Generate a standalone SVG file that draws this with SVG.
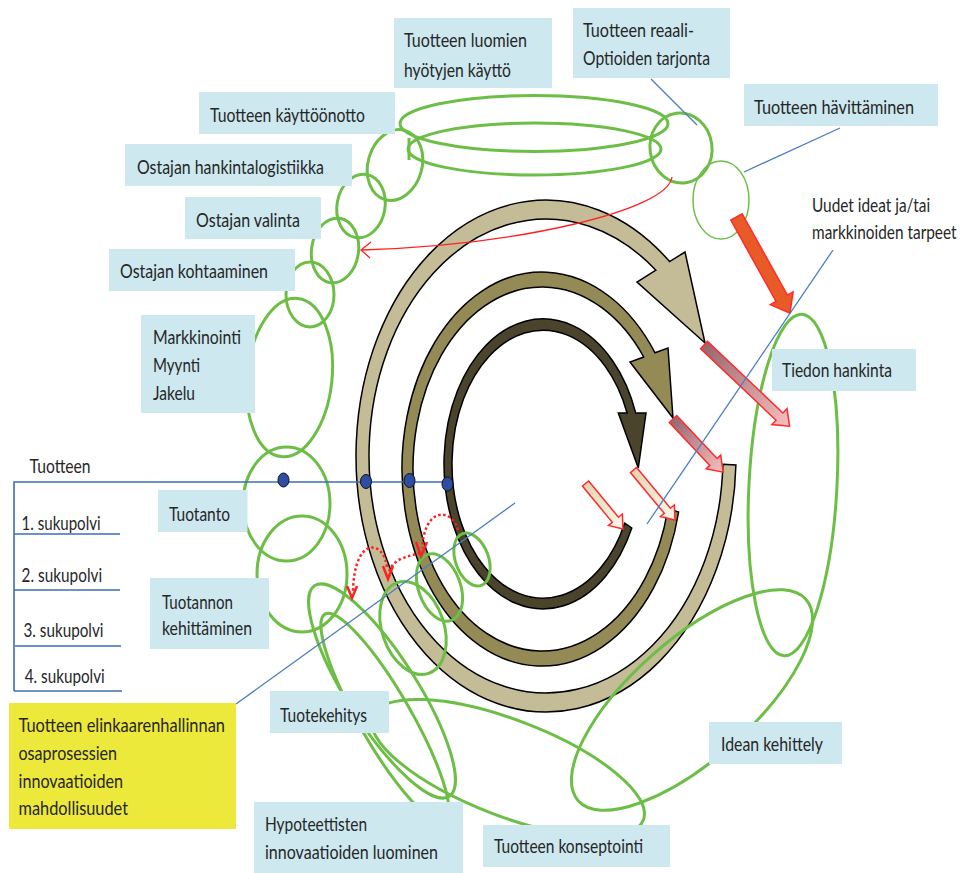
<svg xmlns="http://www.w3.org/2000/svg" width="966" height="873" viewBox="0 0 966 873">
  <defs>
    <linearGradient id="gradRed" x1="0" y1="0" x2="1" y2="0">
      <stop offset="0" stop-color="#97676F"/>
      <stop offset="1" stop-color="#F7BFC0"/>
    </linearGradient>
    <linearGradient id="gradCream" x1="0" y1="0" x2="1" y2="0">
      <stop offset="0" stop-color="#E2D7B5"/>
      <stop offset="1" stop-color="#FBF7EA"/>
    </linearGradient>
    <style>
      .box { fill: #CDE8EF; }
      .ybox { fill: #EDE93B; }
      .lbl { font-family: Lato, "Liberation Sans", sans-serif; font-size: 20px; fill: #262626; }
      .g { fill: none; stroke: #6DBE46; stroke-width: 3; }
      .gt { fill: none; stroke: #6DBE46; stroke-width: 1.5; }
      .ring { stroke: #000; stroke-width: 1.5; stroke-linejoin: miter; }
      .blue { fill: none; stroke: #4A7EC0; stroke-width: 1.3; }
      .gen { fill: none; stroke: #3F6DB5; stroke-width: 1.6; }
      .dot { fill: #2D4EA2; stroke: #111; stroke-width: 1; }
      .dotted { fill: none; stroke: #FF2020; stroke-width: 2.5; stroke-dasharray: 2.5 2.5; }
      .vhead { fill: none; stroke: #FF2020; stroke-width: 2.5; }
      .blk { stroke: #FF2A2A; stroke-width: 1.5; stroke-linejoin: miter; }
    </style>
  </defs>

  <!-- three generation cycles -->
  <g id="cycles">
    <path id="cycle-outer" class="ring" fill="#C4BB97" d="M722.9,464.3 L735.9,464.9 A190 256 0 1 1 669.6,261.6 L685,252 L705,343 L637,282 L655.9,270.2 A177 237 0 1 0 722.9,464.3 Z"/>
    <path id="cycle-middle" class="ring" fill="#938A56" d="M667.9,508.7 L678.6,512 A140 197 0 1 1 655,352.8 L668,348 L673,418 L630,362 L643.7,357 A129 182 0 1 0 667.9,508.7 Z"/>
    <path id="cycle-inner" class="ring" fill="#4A442C" d="M624.7,523.2 L631.8,528 A99 145 0 1 1 635.7,413 L646,413 L638.3,468 L618.3,413 L627.1,413 A91 134 0 1 0 624.7,523.2 Z"/>
  </g>

  <!-- sub-process loops -->
  <g id="loops">
    <ellipse class="g" cx="534" cy="123.5" rx="134" ry="28"/>
    <ellipse class="g" cx="534.5" cy="149" rx="126.5" ry="26"/>
    <line class="g" x1="409" y1="138" x2="409" y2="160"/>
    <ellipse class="g" cx="681" cy="148" rx="31" ry="35" transform="rotate(-8 681 148)"/>
    <ellipse class="gt" cx="721" cy="200" rx="28" ry="39"/>
    <ellipse class="g" cx="395" cy="165" rx="27" ry="36" transform="rotate(16 395 165)"/>
    <ellipse class="g" cx="361" cy="206" rx="24" ry="32" transform="rotate(10 361 206)"/>
    <ellipse class="g" cx="335" cy="250.5" rx="23.5" ry="32.5" transform="rotate(8 335 250.5)"/>
    <ellipse class="g" cx="310" cy="294.5" rx="24" ry="32.5"/>
    <ellipse class="g" cx="289.5" cy="377.5" rx="42.5" ry="79.5" transform="rotate(6 289.5 377.5)"/>
    <ellipse class="g" cx="286.5" cy="504" rx="43.5" ry="57"/>
    <ellipse class="g" cx="302" cy="574" rx="45" ry="58"/>
    <ellipse class="g" cx="413" cy="628" rx="31" ry="48" transform="rotate(-19 413 628)"/>
    <ellipse class="g" cx="439.5" cy="587.5" rx="21" ry="35" transform="rotate(-20 439.5 587.5)"/>
    <ellipse class="g" cx="472" cy="559.5" rx="16.5" ry="27.5" transform="rotate(-20 472 559.5)"/>
    <ellipse class="g" cx="382" cy="691" rx="125" ry="35" transform="rotate(57.5 382 691)"/>
    <ellipse class="g" cx="385" cy="718" rx="120" ry="26" transform="rotate(60 385 718)"/>
    <ellipse class="g" cx="508" cy="768" rx="145" ry="48" transform="rotate(21 508 768)"/>
    <ellipse class="g" cx="692" cy="700" rx="152" ry="60" transform="rotate(-41.5 692 700)"/>
    <ellipse class="g" cx="793" cy="485" rx="44" ry="171" transform="rotate(3 793 485)"/>
  </g>

  <!-- block arrows -->
  <g id="flow-arrows">
    <polygon id="arrow-outer" class="blk" fill="url(#gradRed)" points="0,-5 104,-5 104,-11 118,0 104,11 104,5 0,5" transform="translate(704 345) rotate(43.5)"/>
    <polygon id="arrow-middle" class="blk" fill="url(#gradRed)" points="0,-5 59,-5 59,-10 73,0 59,10 59,5 0,5" transform="translate(673 419) rotate(46.7)"/>
    <polygon id="arrow-inner-a" class="blk" fill="url(#gradCream)" points="0,-4 53,-4 53,-9 65,0 53,9 53,4 0,4" transform="translate(633.5 470) rotate(50.3)"/>
    <polygon id="arrow-inner-b" class="blk" fill="url(#gradCream)" points="0,-4 47,-4 47,-9 59,0 47,9 47,4 0,4" transform="translate(585.5 483.5) rotate(50.5)"/>
    <polygon id="arrow-ideas" class="blk" fill="#E85B28" points="0,-6.5 93,-6.5 93,-13 110,0 93,13 93,6.5 0,6.5" transform="translate(736.5 217) rotate(60.9)"/>
  </g>

  <!-- connectors -->
  <g id="connectors">
    <line class="blue" x1="651" y1="79" x2="697" y2="125"/>
    <line class="blue" x1="840" y1="128" x2="744" y2="172"/>
    <line class="blue" x1="833" y1="250" x2="647" y2="524"/>
    <line class="blue" x1="236" y1="704" x2="515" y2="503"/>
    <path fill="none" stroke="#FF2020" stroke-width="1.3" d="M672,177 C668,210 520,245 362,250"/>
    <polyline fill="none" stroke="#FF2020" stroke-width="1.3" points="371,242 361,250 370,258"/>
    <path class="dotted" d="M458,530 C452,508 425,506 422,548"/>
    <polyline class="vhead" points="416,542 421,556 427,542"/>
    <path class="dotted" d="M420,553 C410,556 393,558 389,572"/>
    <polyline class="vhead" points="383,566 388,579 393,566"/>
    <path class="dotted" d="M387,567 C384,540 354,535 353,592"/>
    <polyline class="vhead" points="347,586 352,598 357,586"/>
  </g>

  <!-- product generations axis -->
  <g id="generations">
    <polyline class="gen" points="448,482 14,482 14,691"/>
    <line class="gen" x1="14" y1="534" x2="120" y2="534"/>
    <line class="gen" x1="14" y1="590" x2="120" y2="590"/>
    <line class="gen" x1="15" y1="646" x2="121" y2="646"/>
    <line class="gen" x1="14" y1="691" x2="122" y2="691"/>
    <ellipse class="dot" cx="283.5" cy="480" rx="5.5" ry="7"/>
    <ellipse class="dot" cx="366" cy="481.5" rx="5.5" ry="7"/>
    <ellipse class="dot" cx="409.5" cy="480.5" rx="5.5" ry="7"/>
    <ellipse class="dot" cx="447.5" cy="484" rx="5.5" ry="7"/>
    <text class="lbl" x="29.6" y="472.5" textLength="61" lengthAdjust="spacingAndGlyphs">Tuotteen</text>
    <text class="lbl" x="21.6" y="529.5" textLength="79" lengthAdjust="spacingAndGlyphs">1. sukupolvi</text>
    <text class="lbl" x="21.6" y="582" textLength="80.5" lengthAdjust="spacingAndGlyphs">2. sukupolvi</text>
    <text class="lbl" x="23.5" y="637" textLength="80" lengthAdjust="spacingAndGlyphs">3. sukupolvi</text>
    <text class="lbl" x="24.7" y="683" textLength="80" lengthAdjust="spacingAndGlyphs">4. sukupolvi</text>
  </g>

  <!-- labels -->
  <g id="node-kaytto">
    <rect class="box" x="394" y="18" width="158" height="70"/>
    <text class="lbl" x="404" y="47" textLength="123" lengthAdjust="spacingAndGlyphs">Tuotteen luomien</text>
    <text class="lbl" x="404" y="76.5" textLength="107" lengthAdjust="spacingAndGlyphs">hyötyjen käyttö</text>
  </g>
  <g id="node-reaalioptiot">
    <rect class="box" x="573" y="8" width="157" height="70"/>
    <text class="lbl" x="583" y="36.5" textLength="111" lengthAdjust="spacingAndGlyphs">Tuotteen reaali-</text>
    <text class="lbl" x="583" y="65" textLength="127" lengthAdjust="spacingAndGlyphs">Optioiden tarjonta</text>
  </g>
  <g id="node-havittaminen">
    <rect class="box" x="744" y="84" width="194" height="42"/>
    <text class="lbl" x="754" y="113.5" textLength="160" lengthAdjust="spacingAndGlyphs">Tuotteen hävittäminen</text>
  </g>
  <g id="node-kayttoonotto">
    <rect class="box" x="199" y="92" width="196" height="42"/>
    <text class="lbl" x="210" y="121.5" textLength="155" lengthAdjust="spacingAndGlyphs">Tuotteen käyttöönotto</text>
  </g>
  <g id="node-hankintalogistiikka">
    <rect class="box" x="125" y="144" width="227" height="42"/>
    <text class="lbl" x="137" y="173.5" textLength="187" lengthAdjust="spacingAndGlyphs">Ostajan hankintalogistiikka</text>
  </g>
  <g id="node-valinta">
    <rect class="box" x="185" y="197" width="136" height="42"/>
    <text class="lbl" x="196" y="226.5" textLength="104" lengthAdjust="spacingAndGlyphs">Ostajan valinta</text>
  </g>
  <g id="node-kohtaaminen">
    <rect class="box" x="109" y="249" width="186" height="42"/>
    <text class="lbl" x="120" y="278" textLength="148" lengthAdjust="spacingAndGlyphs">Ostajan kohtaaminen</text>
  </g>
  <g id="node-markkinointi">
    <rect class="box" x="141" y="315" width="114" height="98"/>
    <text class="lbl" x="153" y="343.5" textLength="88" lengthAdjust="spacingAndGlyphs">Markkinointi</text>
    <text class="lbl" x="153" y="372" textLength="47" lengthAdjust="spacingAndGlyphs">Myynti</text>
    <text class="lbl" x="153" y="400" textLength="42" lengthAdjust="spacingAndGlyphs">Jakelu</text>
  </g>
  <g id="node-tuotanto">
    <rect class="box" x="158" y="490" width="89.5" height="42"/>
    <text class="lbl" x="169" y="521" textLength="61" lengthAdjust="spacingAndGlyphs">Tuotanto</text>
  </g>
  <g id="node-tuotannon-kehittaminen">
    <rect class="box" x="150" y="578" width="119" height="71"/>
    <text class="lbl" x="162" y="608.5" textLength="71" lengthAdjust="spacingAndGlyphs">Tuotannon</text>
    <text class="lbl" x="162" y="635" textLength="90" lengthAdjust="spacingAndGlyphs">kehittäminen</text>
  </g>
  <g id="node-tuotekehitys">
    <rect class="box" x="270" y="691" width="119" height="42"/>
    <text class="lbl" x="280" y="721.5" textLength="87" lengthAdjust="spacingAndGlyphs">Tuotekehitys</text>
  </g>
  <g id="node-hypoteettiset">
    <rect class="box" x="254" y="802" width="209" height="71"/>
    <text class="lbl" x="265" y="831" textLength="102" lengthAdjust="spacingAndGlyphs">Hypoteettisten</text>
    <text class="lbl" x="265" y="859" textLength="173" lengthAdjust="spacingAndGlyphs">innovaatioiden luominen</text>
  </g>
  <g id="node-konseptointi">
    <rect class="box" x="483" y="825" width="187" height="42"/>
    <text class="lbl" x="494" y="853" textLength="149" lengthAdjust="spacingAndGlyphs">Tuotteen konseptointi</text>
  </g>
  <g id="node-idean-kehittely">
    <rect class="box" x="709" y="722" width="133" height="42"/>
    <text class="lbl" x="721" y="751" textLength="102" lengthAdjust="spacingAndGlyphs">Idean kehittely</text>
  </g>
  <g id="node-tiedon-hankinta">
    <rect class="box" x="772" y="349" width="144" height="42"/>
    <text class="lbl" x="782" y="376.5" textLength="110" lengthAdjust="spacingAndGlyphs">Tiedon hankinta</text>
  </g>
  <g id="node-uudet-ideat">
    <text class="lbl" transform="translate(812 211.5) scale(0.77 1)" x="0" y="0">Uudet ideat ja/tai</text>
    <text class="lbl" transform="translate(812 239) scale(0.77 1)" x="0" y="0">markkinoiden tarpeet</text>
  </g>
  <g id="node-mahdollisuudet">
    <rect class="ybox" x="9" y="703" width="227" height="126"/>
    <text class="lbl" x="18.5" y="732" textLength="206.5" lengthAdjust="spacingAndGlyphs">Tuotteen elinkaarenhallinnan</text>
    <text class="lbl" x="18.5" y="760" textLength="98.5" lengthAdjust="spacingAndGlyphs">osaprosessien</text>
    <text class="lbl" x="18.5" y="787.5" textLength="104.5" lengthAdjust="spacingAndGlyphs">innovaatioiden</text>
    <text class="lbl" x="18.5" y="815" textLength="109.5" lengthAdjust="spacingAndGlyphs">mahdollisuudet</text>
  </g>
</svg>
